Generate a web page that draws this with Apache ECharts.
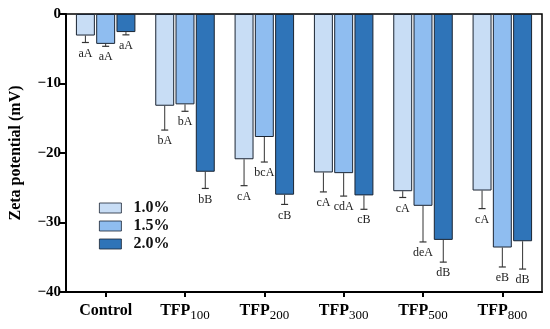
<!DOCTYPE html>
<html><head><meta charset="utf-8">
<script src="https://cdn.jsdelivr.net/npm/echarts@6/dist/echarts.min.js"></script>
<style>html,body{margin:0;padding:0;background:#fff}#c{width:550px;height:329px}</style>
</head><body><div id="c"></div>
<script>
const categories = ['Control','TFP100','TFP200','TFP300','TFP500','TFP800'];
const seriesNames = ['1.0%','1.5%','2.0%'];
const s10 = [-3.1,-13.2,-20.9,-22.8,-25.5,-25.4];
const s15 = [-4.3,-13.0,-17.7,-22.9,-27.6,-33.6];
const s20 = [-2.6,-22.7,-26.0,-26.1,-32.5,-32.7];
const e10 = [1.0,3.5,3.8,2.8,0.9,2.6];
const e15 = [0.35,1.0,3.6,3.3,5.2,2.8];
const e20 = [0.4,2.4,1.4,2.0,3.2,4.0];
const l10 = ['aA','bA','cA','cA','cA','cA'];
const l15 = ['aA','bA','bcA','cdA','deA','eB'];
const l20 = ['aA','bB','cB','cB','dB','dB'];
const yTicks = [-40,-30,-20,-10,0];

const colors = ['#c8ddf5','#8fbdf0','#2f74b8'];
const FONT = "'Liberation Serif','Times New Roman',serif";
const CAT_GAP = 0.25, BAR_GAP = 0.07;
const vals = [s10,s15,s20], errs = [e10,e15,e20], labs = [l10,l15,l20];

const chart = echarts.init(document.getElementById('c'), null, {renderer:'canvas'});

function errRender(k){
  return function(params, api){
    const i = api.value(0), v = api.value(1), e = api.value(2);
    const band = api.size([1,0])[0];
    const usable = band*(1-CAT_GAP);
    const bw = usable/(3+2*BAR_GAP);
    const off = (k-1)*(bw+bw*BAR_GAP);
    const top = api.coord([i, v]);
    const bot = api.coord([i, v - e]);
    const x = top[0] + off;
    const cap = 3.5;
    return {type:'group', children:[
      {type:'line', shape:{x1:x,y1:top[1],x2:x,y2:bot[1]}, style:{stroke:'#333',lineWidth:1}},
      {type:'line', shape:{x1:x-cap,y1:bot[1],x2:x+cap,y2:bot[1]}, style:{stroke:'#333',lineWidth:1.2}},
      {type:'text', style:{x:x, y:bot[1]+11, text:labs[k][i], fill:'#222', font:'12px '+FONT, textAlign:'center', textVerticalAlign:'middle'}}
    ]};
  };
}

const series = [];
for (let k=0;k<3;k++){
  series.push({
    name: seriesNames[k], type:'bar', data: vals[k],
    barCategoryGap: (CAT_GAP*100)+'%', barGap: (BAR_GAP*100)+'%',
    itemStyle:{color:colors[k], borderColor:'#1b2533', borderWidth:1},
    silent:true
  });
}
for (let k=0;k<3;k++){
  series.push({
    type:'custom', renderItem: errRender(k), silent:true, z:5,
    data: categories.map((c,i)=>[i, vals[k][i], errs[k][i]])
  });
}

chart.setOption({
  animation:false,
  grid:{left:64,right:8,top:14,bottom:37,show:true,borderColor:'#000',borderWidth:1.5},
  legend:{
    data: seriesNames, orient:'vertical', left:94, top:195,
    itemWidth:22, itemHeight:10, itemGap:2, icon:'rect',
    itemStyle:{borderWidth:0.8},
    textStyle:{fontFamily:FONT, fontWeight:'bold', fontSize:16, lineHeight:15, color:'#111', padding:[0,0,0,7]}
  },
  xAxis:{
    type:'category', data:categories,
    axisLine:{onZero:false, lineStyle:{color:'#000', width:2}},
    axisTick:{show:true, alignWithLabel:true, length:5, lineStyle:{color:'#000', width:2}},
    axisLabel:{
      margin:11, interval:0,
      formatter: v => v.startsWith('TFP') ? '{b|TFP}{s|'+v.slice(3)+'}' : '{b|'+v+'}',
      rich:{
        b:{fontFamily:FONT, fontWeight:'bold', fontSize:16, lineHeight:20, color:'#000', verticalAlign:'top'},
        s:{fontFamily:FONT, fontSize:13, lineHeight:13, color:'#000', padding:[6,0,0,0], verticalAlign:'top'}
      }
    }
  },
  yAxis:{
    type:'value', min:yTicks[0], max:yTicks[yTicks.length-1], interval:10,
    name:'Zeta potential (mV)', nameLocation:'middle', nameGap:42,
    nameTextStyle:{fontFamily:FONT, fontWeight:'bold', fontSize:16, color:'#000'},
    axisLine:{show:true, lineStyle:{color:'#000', width:2}},
    axisTick:{show:true, length:6, lineStyle:{color:'#000', width:2}},
    splitLine:{show:false},
    axisLabel:{margin:5, fontFamily:FONT, fontWeight:'bold', fontSize:15, color:'#000',
      formatter: v => v===0 ? '0' : '\u2212'+Math.abs(v)}
  },
  series: series
});
</script></body></html>
